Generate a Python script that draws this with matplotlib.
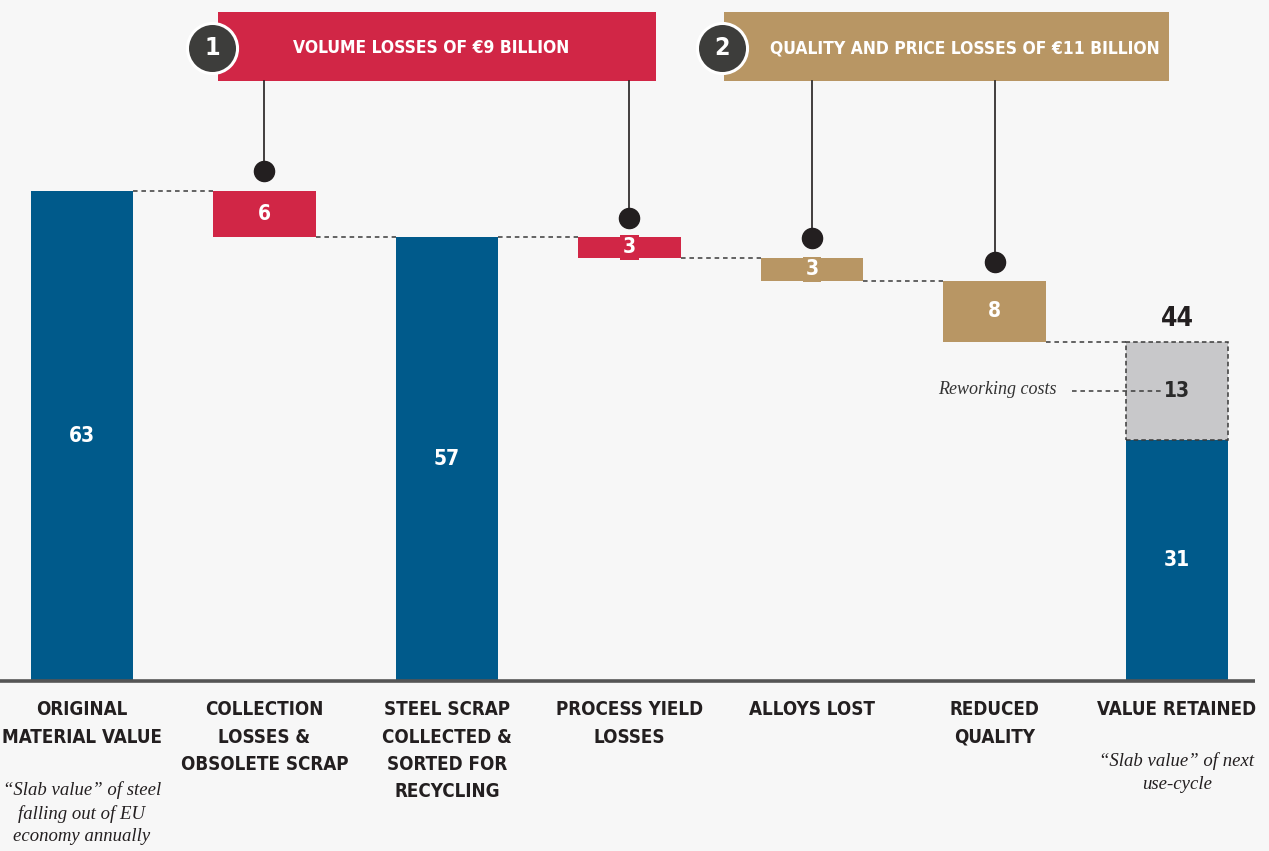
import numpy as np
import matplotlib
matplotlib.use('Agg')
import matplotlib.pyplot as plt
from matplotlib.patches import Rectangle

# Data (EUR billion)
categories = ['ORIGINAL\nMATERIAL VALUE', 'COLLECTION\nLOSSES &\nOBSOLETE SCRAP',
              'STEEL SCRAP\nCOLLECTED &\nSORTED FOR\nRECYCLING', 'PROCESS YIELD\nLOSSES',
              'ALLOYS LOST', 'REDUCED\nQUALITY', 'VALUE RETAINED']
start_value = 63.0
volume_losses = [6.0]             # collection losses
scrap_value = 57.0
process_losses = [2.6, 3.0, 7.8]  # process yield, alloys, reduced quality
retained_value = 31.0
reworking_costs = 12.6
notes = {0: '\u201cSlab value\u201d of steel\nfalling out of EU\neconomy annually',
         6: '\u201cSlab value\u201d of next\nuse-cycle'}
header_texts = ['VOLUME LOSSES OF \u20ac9 BILLION', 'QUALITY AND PRICE LOSSES OF \u20ac11 BILLION']

BLUE = '#005a8b'
RED = '#d12646'
TAN = '#b89664'
GREY = '#c8c8ca'
DARK = '#231f20'
BG = '#f7f7f7'

# condensed bold sans for all labels
COND = dict(family='DejaVu Sans', fontstretch='condensed', fontweight='bold')
SERIF = dict(family=['Liberation Serif', 'DejaVu Serif'], style='italic')

fig = plt.figure(figsize=(12.69, 8.51), dpi=100, facecolor=BG)
ax = fig.add_axes([0, (851 - 681) / 851, 1, 681 / 851])
ax.set_facecolor(BG)
ax.set_xlim(-0.449, 6.504)
ax.set_ylim(0, 87.5)
for s in ax.spines.values():
    s.set_visible(False)
ax.set_xticks([])
ax.set_yticks([])

w = 0.56
# build waterfall
bottoms, heights, colors = [0], [start_value], [BLUE]
level = start_value
for v in volume_losses:
    bottoms.append(level - v); heights.append(v); colors.append(RED)
    level -= v
bottoms.append(0); heights.append(scrap_value); colors.append(BLUE)
level = scrap_value
loss_cols = [RED, TAN, TAN]
for v, c in zip(process_losses, loss_cols):
    bottoms.append(level - v); heights.append(v); colors.append(c)
    level -= v
x = np.arange(len(categories))
ax.bar(x[:6], heights, bottom=bottoms, width=w, color=colors, linewidth=0)
# value retained, stacked with reworking costs
ax.bar(x[6], retained_value, width=w, color=BLUE, linewidth=0)
ax.bar(x[6], reworking_costs, bottom=retained_value, width=w, color=GREY,
       edgecolor='#3a3a3a', linestyle=(0, (3, 2)), linewidth=1.1)
total = retained_value + reworking_costs

# connectors
tops = [b + h for b, h in zip(bottoms, heights)] + [total]
levels = [start_value, bottoms[1], scrap_value, bottoms[3], bottoms[4], bottoms[5]]
for i, lv in enumerate(levels):
    ax.plot([x[i] + w / 2, x[i + 1] - w / 2], [lv, lv], color='#3a3a3a',
            lw=1.1, ls=(0, (3, 2.5)))

# value labels
for i in range(6):
    yc = bottoms[i] + heights[i] / 2
    bb = None
    if heights[i] < 4:
        bb = dict(boxstyle='square,pad=0.12', fc=colors[i], ec='none')
    ax.text(x[i], yc, f'{heights[i]:.0f}', ha='center', va='center', color='white',
            fontsize=15, bbox=bb, **COND)
ax.text(x[6], retained_value / 2, f'{retained_value:.0f}', ha='center', va='center',
        color='white', fontsize=15, **COND)
ax.text(x[6], retained_value + reworking_costs / 2, f'{reworking_costs:.0f}', ha='center',
        va='center', color='#2a2a2a', fontsize=15, **COND)
ax.text(x[6], total + 1.3, f'{total:.0f}', ha='center', va='bottom', color=DARK,
        fontsize=19, **COND)
# reworking costs note
ax.plot([x[6] - 0.575, x[6] - 0.09], [total - 6.35, total - 6.35], color='#3a3a3a',
        lw=1.1, ls=(0, (3, 2.5)))
ax.text(x[6] - 0.66, total - 6.1, 'Reworking costs', ha='right', va='center',
        color='#333333', fontsize=13, **SERIF)

# baseline
ax.plot([-0.449, 6.43], [0, 0], color='#555555', lw=2.6, clip_on=False,
        solid_capstyle='butt')

# headers
headers = [(0.745, 3.145, RED, 0.712), (3.518, 5.956, TAN, 3.507)]
y0, y1 = 77.1, 85.96
ym = 81.27
for k, (xa, xb, c, cx) in enumerate(headers):
    ax.add_patch(Rectangle((xa, y0), xb - xa, y1 - y0, fc=c, ec='none', clip_on=False))
    if k == 0:
        ax.text((xa + xb) / 2 - 0.03, ym, header_texts[k], ha='center',
                va='center', color='white', fontsize=12.5, **COND)
    else:
        ax.text(xa + 0.25, ym, header_texts[k], ha='left', va='center',
                color='white', fontsize=12.5, **COND)
    ax.scatter([cx], [ym], s=1300, color='#3d3d3b', edgecolor='white',
               linewidth=2.2, zorder=5, clip_on=False)
    ax.text(cx, ym, str(k + 1), ha='center', va='center',
            color='white', fontsize=18, zorder=6, **COND)

# stems and dots
stem_idx = [1, 3, 4, 5]
for i in stem_idx:
    dot_y = tops[i] + 2.5
    ax.plot([x[i], x[i]], [dot_y, y0], color=DARK, lw=1.2, zorder=3)
    ax.scatter([x[i]], [dot_y], s=210, color=DARK, zorder=4)

# category labels
for i, lab in enumerate(categories):
    ax.text(x[i], -2.5, lab, ha='center', va='top', color=DARK, fontsize=13.5,
            linespacing=1.55, clip_on=False, **COND)
for i, note in notes.items():
    yy = -12.9 if i == 0 else -9.2
    ax.text(x[i], yy, note, ha='center', va='top', color=DARK, fontsize=13.5,
            linespacing=1.4, clip_on=False, **SERIF)

fig.savefig('out.png', dpi=100, facecolor=BG)
